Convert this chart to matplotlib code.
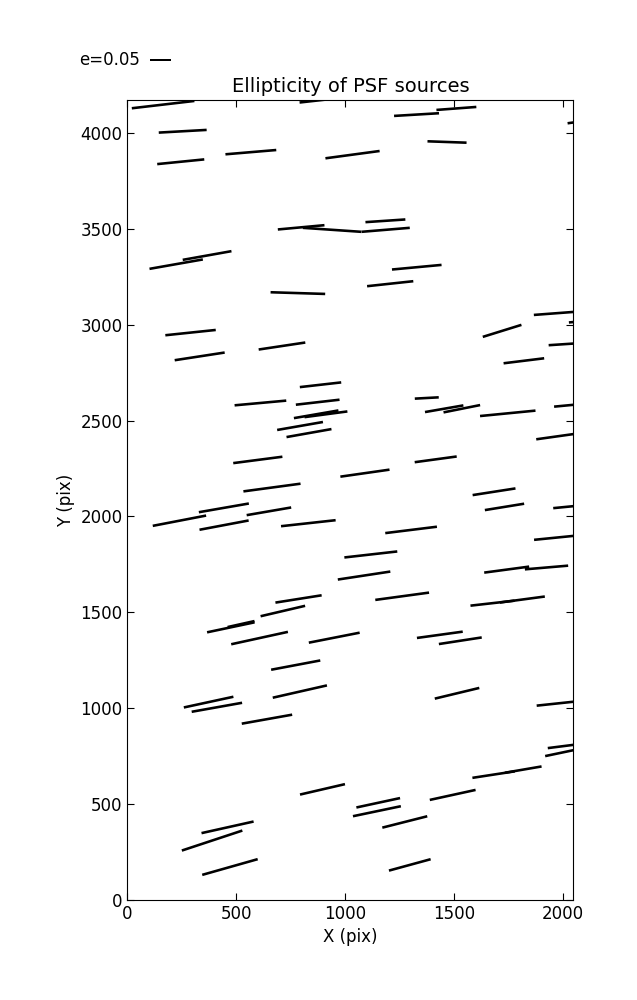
import numpy as np
from matplotlib import pyplot as plt

# whisker centres (pix) and ellipticity components (e*cos, e*sin)
x = [164, 894, 254, 245, 567, 1034, 224, 366, 798, 940, 1186, 783, 1328, 1511, 2125,
     1468, 1185, 1329, 1207, 290, 332, 710, 887, 611, 874, 867, 912, 793, 834, 599,
     1091, 664, 1970, 2131, 1721, 2038, 1821, 1375, 1455, 1536, 1747, 2063, 1981, 1416, 1684,
     1732, 239, 443, 444, 650, 831, 2059, 1303, 1971, 1118, 1087, 1742, 1925, 786, 714,
     1262, 1677, 1814, 475, 522, 607, 950, 1435, 1529, 773, 792, 1514, 373, 411, 641,
     1983, 2034, 2022, 1682, 1818, 896, 1494, 1152, 1146, 1274, 460, 389, 471, 1297]
y = [4148, 4172, 4009, 3850, 3900, 3887, 3316, 3361, 3508, 3495, 3495, 3165, 4096, 4128, 4067,
     3953, 3542, 3300, 3214, 2959, 2835, 2889, 2687, 2592, 2596, 2533, 2533, 2472, 2435, 2295,
     2226, 2151, 3060, 3023, 2968, 2901, 2812, 2618, 2562, 2562, 2538, 2584, 2419, 2298, 2129,
     2050, 1978, 2045, 1955, 2027, 1965, 2055, 1930, 1890, 1802, 1692, 1723, 1734, 1570, 1507,
     1584, 1548, 1567, 1422, 1439, 1366, 1368, 1383, 1352, 1225, 1087, 1078, 1032, 1005, 943,
     1026, 807, 775, 654, 680, 577, 548, 507, 463, 407, 379, 310, 172, 183]
u = [0.149, 0.107, 0.114, 0.112, 0.121, 0.129, 0.127, 0.116, 0.111, 0.139, 0.115, 0.130, 0.107, 0.095, 0.107,
     0.093, 0.095, 0.118, 0.110, 0.120, 0.119, 0.111, 0.0985, 0.123, 0.104, 0.106, 0.102, 0.109, 0.107, 0.117,
     0.117, 0.136, 0.107, 0.107, 0.092, 0.107, 0.0966, 0.057, 0.0914, 0.0871, 0.132, 0.107, 0.107, 0.100, 0.102,
     0.0935, 0.127, 0.119, 0.117, 0.106, 0.130, 0.107, 0.123, 0.107, 0.126, 0.125, 0.107, 0.103, 0.110, 0.106,
     0.128, 0.105, 0.107, 0.113, 0.064, 0.135, 0.121, 0.109, 0.102, 0.117, 0.129, 0.106, 0.118, 0.120, 0.120,
     0.107, 0.107, 0.107, 0.101, 0.0873, 0.107, 0.109, 0.104, 0.114, 0.107, 0.124, 0.144, 0.132, 0.0992]
v = [0.0174, 0.0119, 0.0064, 0.0112, 0.0102, 0.0174, 0.0224, 0.0207, 0.0102, -0.0095, 0.0095, -0.004, 0.0064, 0.0071, 0.015,
     -0.0033, 0.0064, 0.011, 0.0119, 0.0126, 0.0183, 0.0167, 0.0112, 0.0112, 0.0119, 0.0183, 0.0136, 0.019, 0.019, 0.0152,
     0.0167, 0.0183, 0.0081, 0.0102, 0.0286, 0.0071, 0.0119, 0.0031, 0.0159, 0.0174, 0.0129, 0.0102, 0.015, 0.0136, 0.0159,
     0.0152, 0.0245, 0.0207, 0.0221, 0.0183, 0.0143, 0.0105, 0.0152, 0.0107, 0.0143, 0.019, 0.0143, 0.0088, 0.0174, 0.0248,
     0.0174, 0.0119, 0.0143, 0.0238, 0.0143, 0.0295, 0.0238, 0.015, 0.0157, 0.0221, 0.0293, 0.0255, 0.0255, 0.0214, 0.0214,
     0.0114, 0.0136, 0.0224, 0.0155, 0.015, 0.0248, 0.0238, 0.0224, 0.0238, 0.0271, 0.0276, 0.0476, 0.0374, 0.0271]

key_e = 0.05

plt.rcParams["font.size"] = 12
plt.rcParams["xtick.direction"] = "in"
plt.rcParams["ytick.direction"] = "in"
plt.rcParams["xtick.top"] = True
plt.rcParams["ytick.right"] = True

fig = plt.figure(figsize=(6.37, 10), dpi=100)
fig.subplots_adjust(left=0.2, right=0.9, bottom=0.1, top=0.9)
ax = fig.add_subplot(1, 1, 1)

q = ax.quiver(
    x, y, u, v,
    pivot="middle",
    headwidth=0, headlength=0, headaxislength=0,
    angles="uv",
    scale_units="inches",
    scale=0.05 / 0.21,
    units="dots",
    width=2.6,
    color="black",
)
# key: tail sits at X when the label is on the west side
ax.quiverkey(q, 0.2355, 0.94, key_e, "e=0.05", labelpos="W",
             coordinates="figure", fontproperties={"size": 12})

ax.set_xlim(0, 2048)
ax.set_ylim(0, 4172)
ax.set_xticks(np.arange(0, 2001, 500))
ax.set_yticks(np.arange(0, 4001, 500))
ax.tick_params(length=5, labelsize=12)
ax.set_xlabel("X (pix)", fontsize=12)
ax.set_ylabel("Y (pix)", fontsize=12)
ax.set_title("Ellipticity of PSF sources", fontsize=14)

plt.savefig("out.png", dpi=100)
